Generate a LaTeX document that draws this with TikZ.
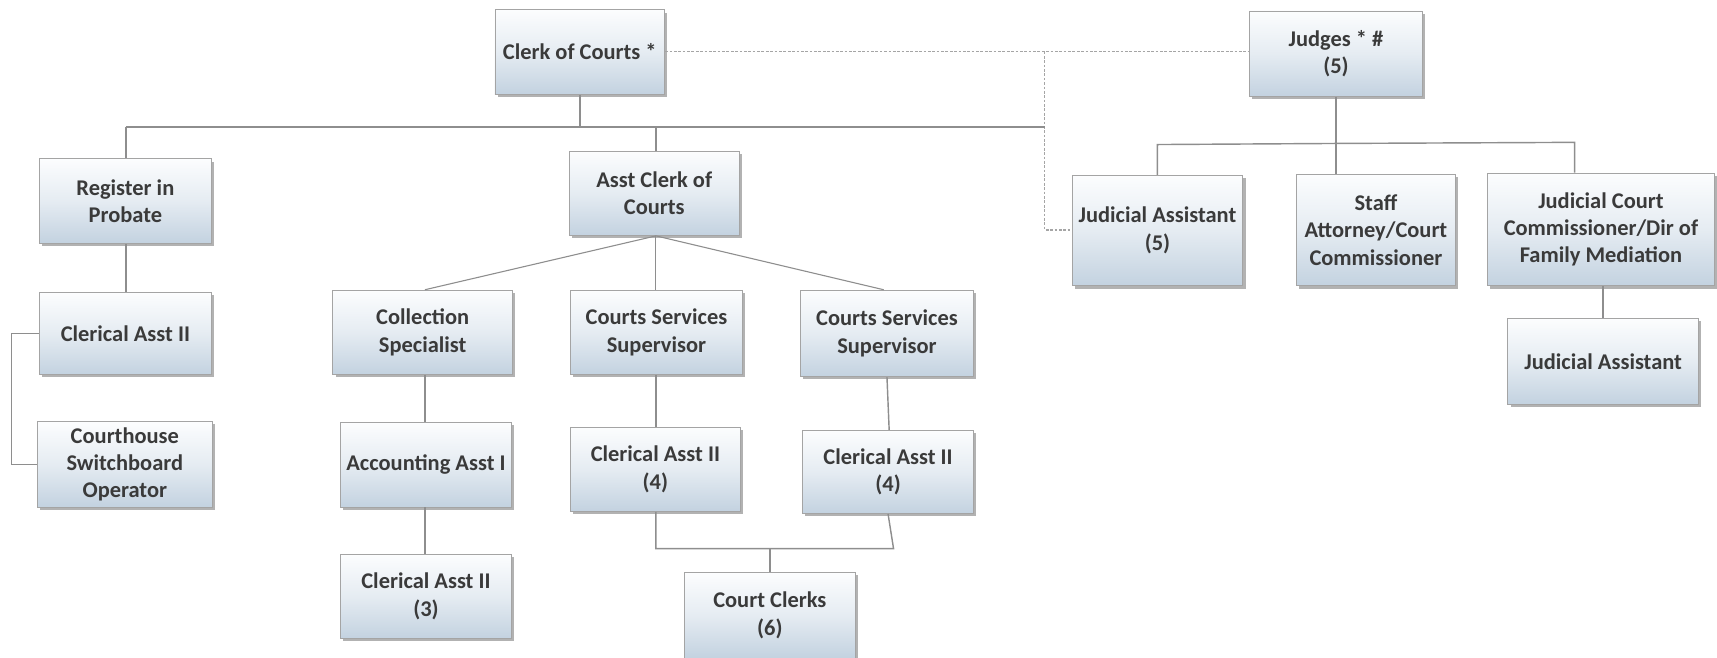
\documentclass[tikz,border=0pt]{standalone}
\usepackage{fontspec}
\setmainfont{Carlito}
\usetikzlibrary{shadows,calc}
\definecolor{boxtop}{HTML}{FCFDFE}
\definecolor{boxbot}{HTML}{C3D2E0}
\definecolor{boxline}{HTML}{A4A4A4}
\definecolor{linkgray}{HTML}{8E8E8E}
\definecolor{txt}{HTML}{3A3A3A}
\tikzset{
  orgbox/.style={draw=boxline, line width=0.8pt, top color=boxtop, bottom color=boxbot,
    middle color=boxtop!60!boxbot,
    drop shadow={shadow xshift=2.5pt, shadow yshift=-2.5pt, opacity=0.55, fill=black!55},
    align=center, inner sep=2pt, text=txt,
    font=\fontsize{20.5}{25}\selectfont\bfseries},
  link/.style={draw=linkgray, line width=1.3pt},
  dotlink/.style={draw=linkgray!80, line width=1.1pt, dash pattern=on 2.5pt off 1.5pt}
}
\begin{document}
\begin{tikzpicture}[x=1pt,y=-1pt]
\useasboundingbox (0,0) rectangle (1568,600);
% boxes: centre, width, height
\newcommand{\orgnode}[6]{\node[orgbox, minimum width=#4pt, minimum height=#5pt] (#1) at (#2,#3) {#6};}
\orgnode{clerk}{529.5}{47.5}{155}{77}{Clerk of Courts *}
\orgnode{judges}{1220}{49}{158}{78}{Judges * \#\\(5)}
\orgnode{register}{114.5}{183.5}{157}{77}{Register in\\Probate}
\orgnode{asst}{597.5}{176.5}{155}{77}{Asst Clerk of\\Courts}
\orgnode{jafive}{1057}{210.5}{156}{101}{Judicial Assistant\\(5)}
\orgnode{staff}{1256.5}{210}{145}{102}{Staff\\Attorney/Court\\Commissioner}
\orgnode{jcc}{1462}{209.5}{207}{103}{Judicial Court\\Commissioner/Dir of\\Family Mediation}
\orgnode{jaone}{1464}{330}{174}{78}{Judicial Assistant}
\orgnode{clerreg}{114.5}{304.5}{157}{75}{Clerical Asst II}
\orgnode{switch}{114}{424}{160}{78}{Courthouse\\Switchboard\\Operator}
\orgnode{coll}{386}{303.5}{164}{77}{Collection\\Specialist}
\orgnode{cssone}{599.5}{303.5}{157}{77}{Courts Services\\Supervisor}
\orgnode{csstwo}{810}{304.5}{158}{79}{Courts Services\\Supervisor}
\orgnode{acct}{389}{424.5}{156}{77}{Accounting Asst I}
\orgnode{clerthree}{389}{544.5}{156}{77}{Clerical Asst II\\(3)}
\orgnode{clerfoura}{598.5}{428.5}{155}{77}{Clerical Asst II\\(4)}
\orgnode{clerfourb}{811}{431}{156}{76}{Clerical Asst II\\(4)}
\orgnode{clerks}{703}{562}{156}{78}{Court Clerks\\(6)}

% junction points of the bus lines
\coordinate (busL) at (115,116);
\coordinate (busR) at (954,116);
\coordinate (dashTurn) at (954,210);
\coordinate (jbus) at (1220,131);
\coordinate (clkL) at (599,501);
\coordinate (clkR) at (816,501);

% dotted advisory links
\draw[dotlink] (clerk.east |- 0,47) -- (judges.west |- 0,47);
\draw[dotlink] (954,47) -- (dashTurn) -- (jafive.west |- dashTurn);

% clerk of courts branch
\draw[link] (clerk.south) -- (clerk.south |- busL);
\draw[link] (busL) -- (busR);
\draw[link] (busL) -- (register.north -| busL);
\draw[link] (asst.north -| 599,0) -- (599,116);
\draw[link] (register.south -| busL) -- (clerreg.north -| busL);
\draw[link] (clerreg.west) -- ++(-25,0) |- (switch.west);

% assistant clerk branch
\draw[link, line width=1pt] (asst.south -| 599,0) -- (coll.north -| 388,0);
\draw[link, line width=1pt] (asst.south -| 599,0) -- (cssone.north -| 599,0);
\draw[link, line width=1pt] (asst.south -| 599,0) -- (csstwo.north -| 807,0);
\draw[link] (coll.south -| 388,0) -- (acct.north -| 388,0);
\draw[link] (acct.south -| 388,0) -- (clerthree.north -| 388,0);
\draw[link] (cssone.south -| 599,0) -- (clerfoura.north -| 599,0);
\draw[link] (csstwo.south -| 810,0) -- (clerfourb.north -| 812,0);
\draw[link] (clerfoura.south -| clkL) -- (clkL) -- (clkR) -- (clerfourb.south -| 811,0);
\draw[link] (clerks.north |- clkL) -- (clerks.north);

% judges branch
\draw[link] (judges.south) -- (jbus);
\draw[link] (jbus) -- (1057,132) -- (jafive.north);
\draw[link] (jbus) -- (1438,130) -- (jcc.north -| 1438,0);
\draw[link] (jbus) -- (staff.north -| jbus);
\draw[link] (jcc.south -| jaone.north) -- (jaone.north);
\end{tikzpicture}
\end{document}
